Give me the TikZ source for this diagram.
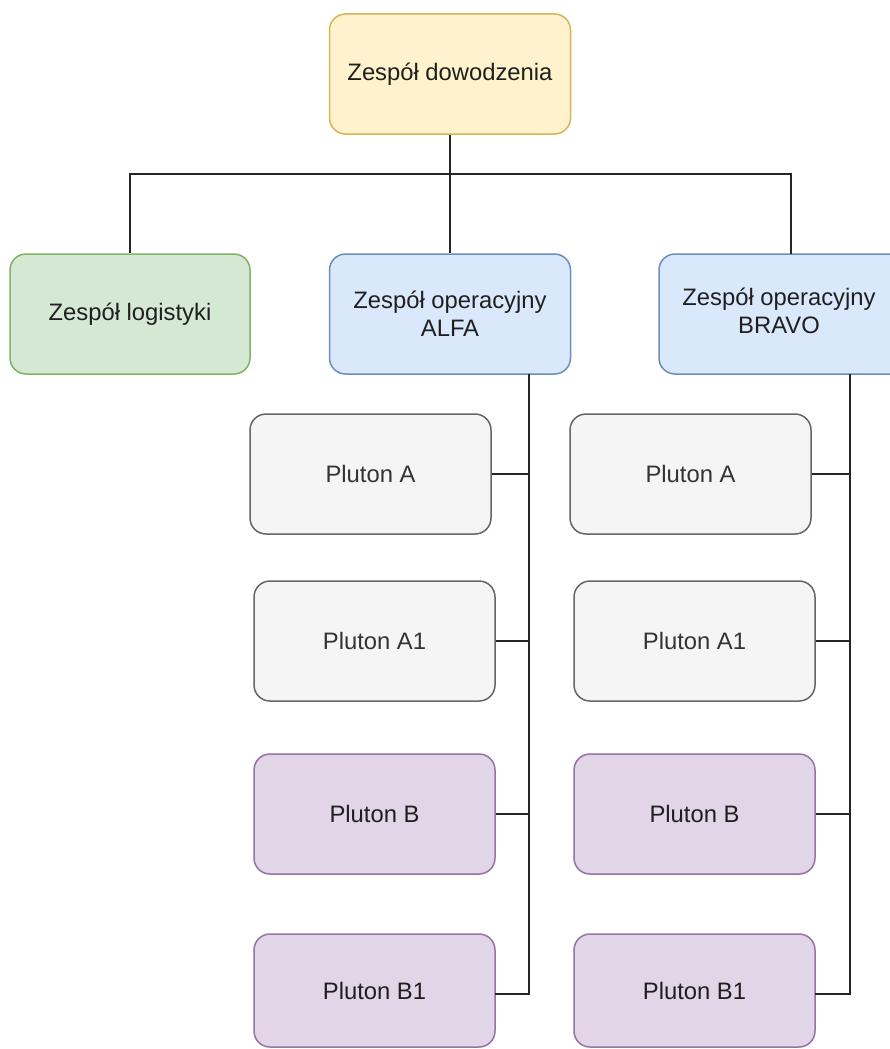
\documentclass[tikz,border=0pt]{standalone}
\usepackage{fontspec}
\setmainfont{Liberation Sans}
\definecolor{yfill}{HTML}{FFF2CC}\definecolor{ydraw}{HTML}{D6B656}
\definecolor{gfill}{HTML}{D5E8D4}\definecolor{gdraw}{HTML}{82B366}
\definecolor{bfill}{HTML}{DAE8FC}\definecolor{bdraw}{HTML}{6C8EBF}
\definecolor{grfill}{HTML}{F5F5F5}\definecolor{grdraw}{HTML}{666666}
\definecolor{pfill}{HTML}{E1D5E7}\definecolor{pdraw}{HTML}{9673A6}
\definecolor{txt}{HTML}{1F1F1F}\definecolor{graytxt}{HTML}{333333}
\begin{document}
\begin{tikzpicture}[x=1pt,y=-1pt,
  box/.style={rectangle, rounded corners=16pt, line width=1.5pt, minimum width=241pt, minimum height=120pt,
    inner sep=0pt, align=center, text=txt, font=\fontsize{23.8}{28}\selectfont},
  yel/.style={box, fill=yfill, draw=ydraw},
  grn/.style={box, fill=gfill, draw=gdraw},
  blu/.style={box, fill=bfill, draw=bdraw},
  gry/.style={box, fill=grfill, draw=grdraw, text=graytxt},
  pur/.style={box, fill=pfill, draw=pdraw},
  link/.style={draw=black!85, line width=1.6pt}]
\useasboundingbox (0,0) rectangle (889,1049);
\fill[white] (0,0) rectangle (889,1049);
\node[yel] (top) at (450,74) {Zespół dowodzenia};
\node[grn, minimum width=240pt] (log) at (130,314) {Zespół logistyki};
\node[blu] (alfa) at (450,314) {Zespół operacyjny\\ALFA};
\node[blu, minimum width=260pt, align=left] (bravo) at (789,314)
  {\hspace*{-20pt}\begin{tabular}{@{}c@{}}Zespół operacyjny\\BRAVO\end{tabular}};
% ALFA column
\node[gry] (aA) at (370.5,474) {Pluton A};
\node[gry] (aA1) at (374.5,641) {Pluton A1};
\node[pur] (aB) at (374.5,814) {Pluton B};
\node[pur, minimum height=113pt] (aB1) at (374.5,990.5) {\raisebox{-3pt}{Pluton B1}};
% BRAVO column
\node[gry] (bA) at (690.5,474) {Pluton A};
\node[gry] (bA1) at (694.5,641) {Pluton A1};
\node[pur] (bB) at (694.5,814) {Pluton B};
\node[pur, minimum height=113pt] (bB1) at (694.5,990.5) {\raisebox{-3pt}{Pluton B1}};
% connector points
\coordinate (h) at (450,174);
\coordinate (bin) at (791,254);
\coordinate (at) at (529,374);
\coordinate (bt) at (850,374);
\coordinate (ae) at (495,994);
\coordinate (be) at (815,994);
% top-level connectors
\draw[link] (top.south) -- (alfa.north);
\draw[link] (log.north) |- (h) -| (bin);
% ALFA trunk
\draw[link] (at) |- (ae);
\draw[link] (aA.east) -- (aA.east -| at);
\draw[link] (aA1.east) -- (aA1.east -| at);
\draw[link] (aB.east) -- (aB.east -| at);
% BRAVO trunk
\draw[link] (bt) |- (be);
\draw[link] (bA.east) -- (bA.east -| bt);
\draw[link] (bA1.east) -- (bA1.east -| bt);
\draw[link] (bB.east) -- (bB.east -| bt);
\end{tikzpicture}
\end{document}
